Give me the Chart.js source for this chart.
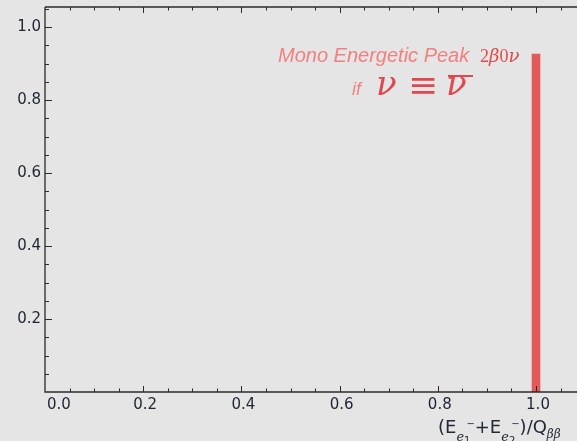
<!DOCTYPE html>
<html>
<head>
<meta charset="utf-8">
<script src="https://cdn.jsdelivr.net/npm/chart.js@4"></script>
<style>
  html, body { margin: 0; padding: 0; background: #e5e5e5; overflow: hidden; }
  canvas { display: block; }
</style>
</head>
<body>
<canvas id="peakChart" width="577" height="441"></canvas>
<script>
// data
const peakX = [1.0];
const peakY = [0.926];
const xTickValues = [0, 0.2, 0.4, 0.6, 0.8, 1.0];
const yTickValues = [0.2, 0.4, 0.6, 0.8, 1.0];
const xMinorStep = 0.05;
const yMinorStep = 0.05;
const xMax = 1.0835;
const yMax = 1.055;

const axisColor = "#2b2b2b";
const barColor = "#e35a5a";

// frame with inward ticks, Mathematica style
const framePlugin = {
  id: "frame",
  afterDatasetsDraw(chart) {
    const { ctx, chartArea: a, scales } = chart;
    const xs = scales.x, ys = scales.y;
    ctx.save();
    ctx.strokeStyle = axisColor;
    ctx.lineWidth = 1.3;
    ctx.beginPath();
    ctx.moveTo(a.left, a.top);
    ctx.lineTo(a.left, a.bottom);
    ctx.lineTo(a.right + 2, a.bottom);
    ctx.moveTo(a.left, a.top);
    ctx.lineTo(a.right + 2, a.top);
    ctx.stroke();

    ctx.lineWidth = 1;
    ctx.beginPath();
    for (let v = xMinorStep; v <= xs.max; v += xMinorStep) {
      const px = Math.round(xs.getPixelForValue(v)) + 0.5;
      const major = xTickValues.some(t => Math.abs(t - v) < 1e-6);
      const len = major ? 6 : 3.5;
      ctx.moveTo(px, a.bottom);
      ctx.lineTo(px, a.bottom - len);
      ctx.moveTo(px, a.top);
      ctx.lineTo(px, a.top + len);
    }
    for (let v = yMinorStep; v <= ys.max; v += yMinorStep) {
      const py = Math.round(ys.getPixelForValue(v)) + 0.5;
      const major = yTickValues.some(t => Math.abs(t - v) < 1e-6);
      const len = major ? 7 : 4;
      ctx.moveTo(a.left, py);
      ctx.lineTo(a.left + len, py);
    }
    ctx.stroke();
    ctx.restore();
  },
  afterDraw(chart) {
    const { ctx, scales } = chart;
    const px = scales.x.getPixelForValue(peakX[0]);
    ctx.save();
    ctx.textBaseline = "alphabetic";
    ctx.textAlign = "left";

    // annotation
    ctx.fillStyle = "#f28080";
    ctx.font = "italic 20px 'Liberation Sans'";
    ctx.fillText("Mono Energetic Peak", px - 258, 62);
    ctx.fillStyle = "#e04a4a";
    ctx.font = "18px 'Liberation Serif'";
    let x = px - 56;
    ctx.fillText("2", x, 62); x += ctx.measureText("2").width;
    ctx.font = "italic 18px 'DejaVu Serif'";
    ctx.fillText("β", x, 62); x += ctx.measureText("β").width;
    ctx.font = "18px 'Liberation Serif'";
    ctx.fillText("0", x, 62); x += ctx.measureText("0").width;
    ctx.font = "italic 18px 'DejaVu Serif'";
    ctx.fillText("ν", x, 62);

    ctx.fillStyle = "#f28080";
    ctx.font = "italic 18px 'Liberation Sans'";
    ctx.fillText("if", px - 184, 95);
    ctx.fillStyle = "#e0474f";
    ctx.font = "italic 34px 'DejaVu Serif'";
    ctx.fillText("ν", px - 160, 95);
    ctx.font = "36px 'DejaVu Serif'";
    ctx.fillText("≡", px - 128, 97);
    ctx.font = "italic 34px 'DejaVu Serif'";
    ctx.fillText("ν", px - 90, 95);
    ctx.fillRect(px - 88, 75, 25, 2);

    // x axis title
    ctx.fillStyle = "#222a3a";
    let tx = 438;
    const big = "18px 'DejaVu Sans'";
    const sub = "italic 13px 'DejaVu Serif'";
    const sub2 = "10px 'DejaVu Sans'";
    const put = (s, f, y) => { ctx.font = f; ctx.fillText(s, tx, y); tx += ctx.measureText(s).width; };
    put("(", big, 433);
    put("E", big, 433);
    const e1 = tx;
    put("e", sub, 441);
    put("1", sub2, 444);
    tx = e1 + 10; put("−", sub2, 427);
    put("+", big, 433);
    put("E", big, 433);
    const e2 = tx;
    put("e", sub, 441);
    put("2", sub2, 444);
    tx = e2 + 10; put("−", sub2, 427);
    put(")", big, 433);
    put("/", big, 433);
    put("Q", big, 433);
    put("ββ", "italic 12px 'DejaVu Serif'", 438);
    ctx.restore();
  }
};

const noEdgePadding = s => { s.paddingTop = 0; s.paddingBottom = 0; s.paddingLeft = 0; s.paddingRight = 0; };

const ctx = document.getElementById("peakChart");
new Chart(ctx, {
  type: "bar",
  data: {
    datasets: [{
      data: peakX.map((x, i) => ({ x: x, y: peakY[i] })),
      backgroundColor: barColor,
      borderWidth: 0,
      barThickness: 8
    }]
  },
  options: {
    responsive: false,
    animation: false,
    devicePixelRatio: 1,
    layout: { padding: { top: 7, left: 0, right: 0, bottom: 0 } },
    plugins: { legend: { display: false }, tooltip: { enabled: false } },
    scales: {
      x: {
        type: "linear",
        offset: false,
        min: 0,
        max: xMax,
        grid: { display: false, drawTicks: false, offset: false },
        border: { display: false },
        // extra unlabeled tick at the edge so "inner" alignment only shifts the 0.0 label
        afterBuildTicks: s => { s.ticks = xTickValues.concat([xMax]).map(v => ({ value: v })); },
        afterFit: s => { s.height = 49; noEdgePadding(s); },
        ticks: {
          padding: 4,
          align: "inner",
          labelOffset: 2,
          color: "#1e2433",
          font: { family: "DejaVu Sans", size: 15 },
          callback: v => (xTickValues.includes(v) ? Number(v).toFixed(1) : "")
        }
      },
      y: {
        min: 0,
        max: yMax,
        grid: { display: false, drawTicks: false },
        border: { display: false },
        afterBuildTicks: s => { s.ticks = yTickValues.map(v => ({ value: v })); },
        afterFit: s => { s.width = 45; noEdgePadding(s); },
        ticks: {
          padding: 4,
          color: "#1e2433",
          font: { family: "DejaVu Sans", size: 15 },
          callback: v => Number(v).toFixed(1)
        }
      }
    }
  },
  plugins: [framePlugin]
});
</script>
</body>
</html>
